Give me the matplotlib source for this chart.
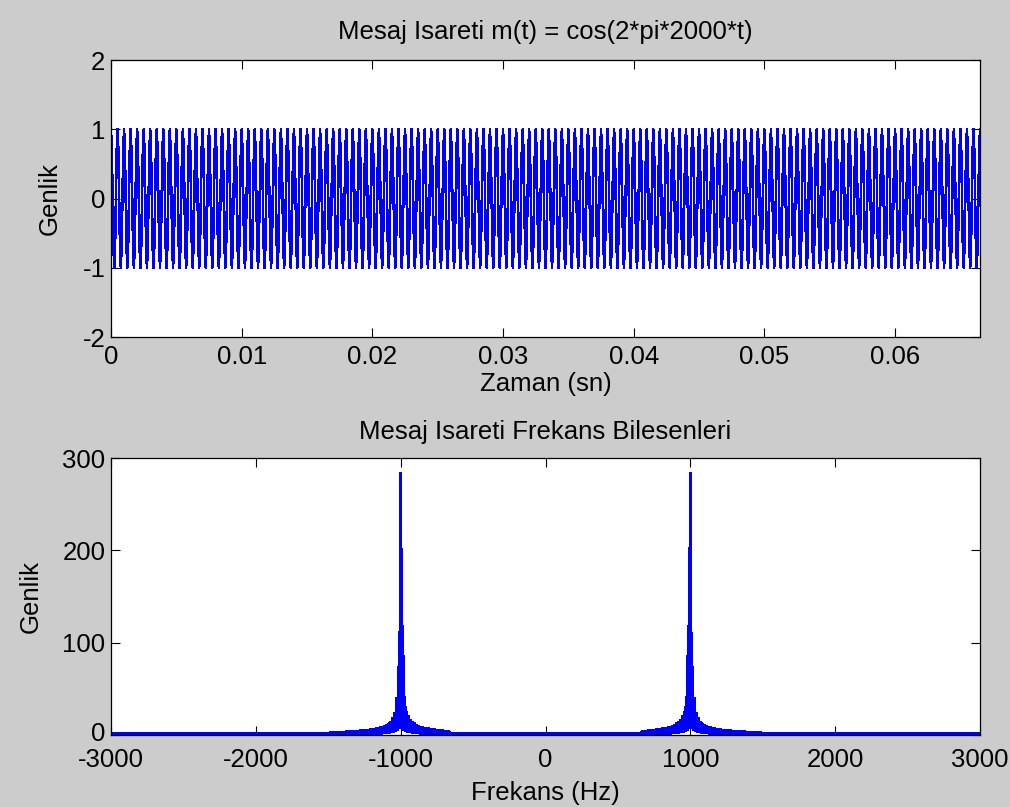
import numpy as np
import matplotlib
matplotlib.use("Agg")
import matplotlib.pyplot as plt
from matplotlib.transforms import ScaledTranslation

plt.rcParams['font.family'] = ['Liberation Sans', 'DejaVu Sans']
plt.rcParams['axes.unicode_minus'] = False

# ---- message signal (levels of one period, 16 kHz sampling)
msg_levels = [1.0, 0.71, 0.0, -0.71, -1.0, -0.71, 0.0, 0.71]
n_samples = 1065
dt = 1 / 16000.0

t = np.arange(n_samples) * dt
m = np.resize(msg_levels, n_samples)

# ---- spectrum
# main lobes sit every 2nd bin, the bins in between are low
freq_step = 1000 / 144.0
peak_freq = 1000
peak_mag = 283
inner_side = [118, 41, 24, 20, 16, 14, 12, 10, 9, 8, 8, 7, 7, 7, 6, 6, 6, 5, 5, 5,
              5, 4, 4, 4]
outer_side = [73, 40, 23, 18, 14, 12, 10, 9, 8, 8, 7, 7, 6, 6, 6, 5, 5, 5, 5, 5,
              4, 4, 4, 4, 4, 4, 4, 3, 3, 3, 3, 3, 3, 3, 3]
between = [8, 6, 5, 4, 4, 3, 3, 3, 3, 2, 2, 2, 2, 2, 2, 2, 2, 2, 2, 2,
           2, 2, 2, 2, 2, 2, 2, 2, 2, 2, 2, 2, 2, 2, 2]
baseline = 1.2

freqs = np.arange(-432, 433) * freq_step
mag = np.full(freqs.size, baseline)
for sign in (1, -1):
    p = int(np.argmin(np.abs(freqs - sign * peak_freq)))
    mag[p] = peak_mag
    for k, v in enumerate(inner_side, 1):
        mag[p - sign * 2 * k] = v
        mag[p - sign * (2 * k - 1)] = between[k - 1]
    for k, v in enumerate(outer_side, 1):
        mag[p + sign * 2 * k] = v
        mag[p + sign * (2 * k - 1)] = between[k - 1]

fs_txt = 18.5
fig = plt.figure(figsize=(10.1, 8.07), dpi=100, facecolor='#cccccc')

def style(ax, xpad):
    ax.tick_params(direction='in', top=True, right=True, length=6.5, width=0.8,
                   labelsize=fs_txt)
    ax.tick_params(axis='x', pad=xpad)
    ax.tick_params(axis='y', pad=4)
    for s in ax.spines.values():
        s.set_linewidth(0.9)

# top: time signal
ax1 = fig.add_axes([0.1099, 0.5824, 0.8604, 0.3432])
ax1.plot(t, m, color='blue', linewidth=1.1, antialiased=False)
ax1.set_xlim(0, t[-1])
ax1.set_ylim(-2, 2)
ax1.set_yticks([-2, -1, 0, 1, 2])
ax1.set_xticks([0, 0.01, 0.02, 0.03, 0.04, 0.05, 0.06])
ax1.set_xticklabels(['0', '0.01', '0.02', '0.03', '0.04', '0.05', '0.06'])
ax1.set_title('Mesaj Isareti m(t) = cos(2*pi*2000*t)', fontsize=fs_txt, pad=15)
ax1.set_xlabel('Zaman (sn)', fontsize=fs_txt, labelpad=2)
ax1.set_ylabel('Genlik', fontsize=fs_txt, labelpad=15)
style(ax1, 6)

# bottom: spectrum
ax2 = fig.add_axes([0.1099, 0.0892, 0.8604, 0.3432])
ax2.plot(freqs, mag, color='blue', linewidth=1.5, antialiased=False)
ax2.set_xlim(-3000, 3000)
ax2.set_ylim(0, 300)
ax2.set_yticks([0, 100, 200, 300])
ax2.set_xticks([-3000, -2000, -1000, 0, 1000, 2000, 3000])
ax2.set_title('Mesaj Isareti Frekans Bilesenleri', fontsize=fs_txt, pad=14)
ax2.set_xlabel('Frekans (Hz)', fontsize=fs_txt, labelpad=7)
ax2.set_ylabel('Genlik', fontsize=fs_txt, labelpad=14)
style(ax2, 9)

# nudge the "0" label up a little so it clears "-3000"
lab0 = ax2.get_yticklabels()[0]
lab0.set_transform(lab0.get_transform() + ScaledTranslation(0, 4 / 100, fig.dpi_scale_trans))

fig.savefig('out.png', dpi=100, facecolor=fig.get_facecolor())
